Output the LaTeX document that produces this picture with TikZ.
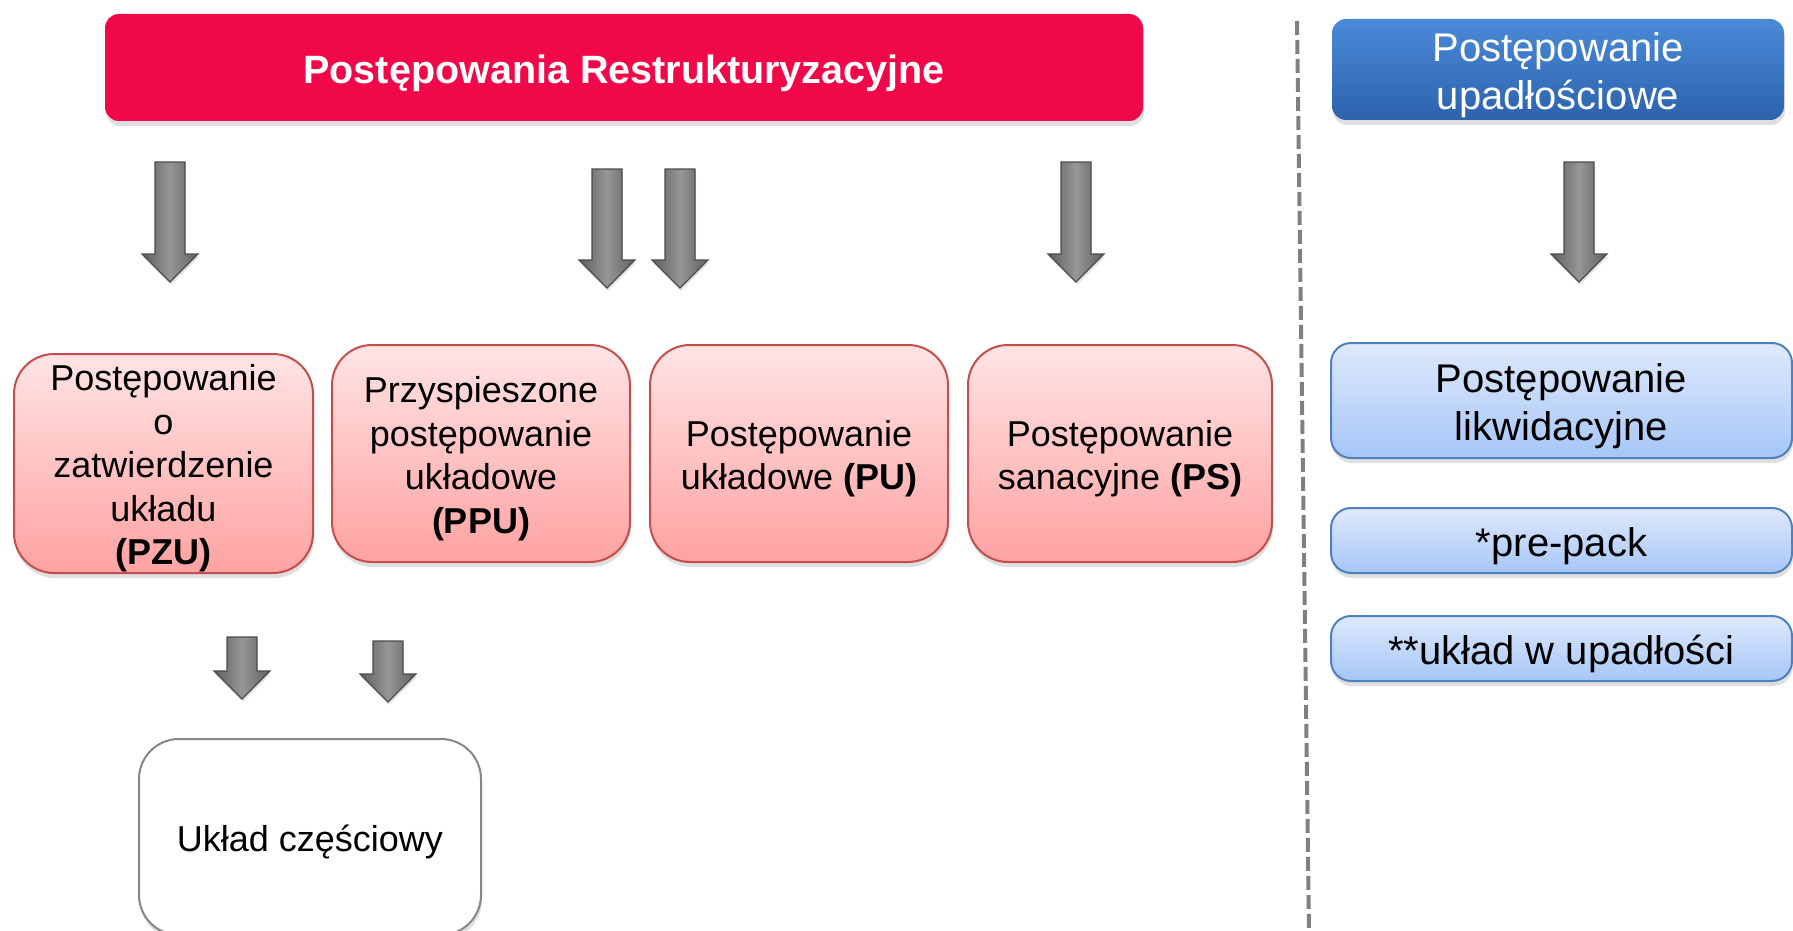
\documentclass[tikz,border=0pt]{standalone}
\usepackage{fontspec}
\setmainfont{Liberation Sans}
\usepackage{tikz}
\usetikzlibrary{shadows, positioning}
\usepackage{xcolor}
\definecolor{headred}{RGB}{240,8,72}
\definecolor{headblue}{RGB}{74,138,216}
\definecolor{headbluedark}{RGB}{45,98,172}
\definecolor{redtop}{RGB}{255,228,228}
\definecolor{redbot}{RGB}{255,162,162}
\definecolor{redline}{RGB}{196,78,76}
\definecolor{bluetop}{RGB}{222,233,252}
\definecolor{bluebot}{RGB}{166,198,247}
\definecolor{blueline}{RGB}{79,129,189}
\definecolor{arrowdark}{RGB}{95,95,95}
\definecolor{arrowlight}{RGB}{150,150,150}
\newcommand{\lift}{\rule{0pt}{1em}} % PowerPoint-like text placement

\begin{document}
\begin{tikzpicture}[x=0.5pt, y=-0.5pt,
    softshadow/.style={drop shadow={shadow xshift=0.5pt, shadow yshift=-2.5pt, opacity=0.25}},
    headbox/.style={rounded corners=7pt, align=center, text=white, softshadow},
    redbox/.style={draw=redline, line width=1pt, rounded corners=20pt, top color=redtop, bottom color=redbot,
        align=center, minimum width=149pt, minimum height=108.5pt, font=\fontsize{18}{21.75}\selectfont, softshadow},
    bluebox/.style={draw=blueline, line width=1pt, rounded corners=10pt, top color=bluetop, bottom color=bluebot,
        align=center, minimum width=230.5pt, font=\fontsize{20}{24}\selectfont, softshadow},
    blockarrow/.style={draw=arrowdark!80!black, line width=0.6pt, left color=arrowdark, right color=arrowdark,
        middle color=arrowlight, drop shadow={shadow xshift=0.5pt, shadow yshift=-1.5pt, opacity=0.2}}]
    \useasboundingbox (0,0) rectangle (1793,931);

    % headers
    \node[headbox, fill=headred, minimum width=519pt, minimum height=53.5pt,
        font=\fontsize{19.75}{24}\selectfont\bfseries] (restr) at (624,67.5) {\lift Postępowania Restrukturyzacyjne};
    \node[headbox, top color=headblue, bottom color=headbluedark, minimum width=226pt, minimum height=50.5pt,
        inner ysep=0pt, font=\fontsize{20}{24}\selectfont] (upadl) at (1558,69.5) {\lift Postępowanie\\upadłościowe};

    % separator between the two kinds of proceedings
    \coordinate (septop) at (1297,21);
    \coordinate (sepbot) at (1309,931);
    \draw[gray, line width=2pt, dash pattern=on 7pt off 2.5pt] (septop) -- (sepbot);

    % restructuring proceedings
    \node[redbox, minimum width=149.5pt, minimum height=109.5pt, inner ysep=0pt] (pzu) at (163.5,463.5)
        {\lift Postępowanie\\o\\zatwierdzenie\\układu\\\textbf{(PZU)}};
    \node[redbox] (ppu) at (481,453.5) {\lift Przyspieszone\\postępowanie\\układowe\\\textbf{(PPU)}};
    \node[redbox, right=9pt of ppu] (pu) {\lift Postępowanie\\układowe \textbf{(PU)}};
    \node[redbox, minimum width=152pt, right=9pt of pu] (ps) {\lift Postępowanie\\sanacyjne \textbf{(PS)}};

    % partial arrangement
    \node[draw=gray!95, line width=1pt, fill=white, rounded corners=20pt, minimum width=171pt, minimum height=98pt,
        font=\fontsize{18}{21.75}\selectfont, softshadow] (czesc) at (310,837) {\lift Układ częściowy};

    % bankruptcy side
    \node[bluebox, minimum height=57.5pt, inner ysep=0pt] (likw) at (1561.5,400.5) {\lift Postępowanie\\likwidacyjne};
    \node[bluebox, minimum height=32.5pt, below=24pt of likw] (prepack) {\lift *pre-pack};
    \node[bluebox, minimum height=32.5pt, below=20.5pt of prepack] (ukladu) {\lift **układ w upadłości};

    % block arrows: x / top / length
    \foreach \ax/\ay/\al in {170/162/120, 607/169/119, 680/169/119, 1076/162/120, 1579/162/120, 242/637/62, 388/641/61}
        \draw[blockarrow] (\ax-15,\ay) -- (\ax+15,\ay) -- (\ax+15,\ay+\al-28) -- (\ax+28,\ay+\al-28)
            -- (\ax,\ay+\al) -- (\ax-28,\ay+\al-28) -- (\ax-15,\ay+\al-28) -- cycle;
\end{tikzpicture}
\end{document}
